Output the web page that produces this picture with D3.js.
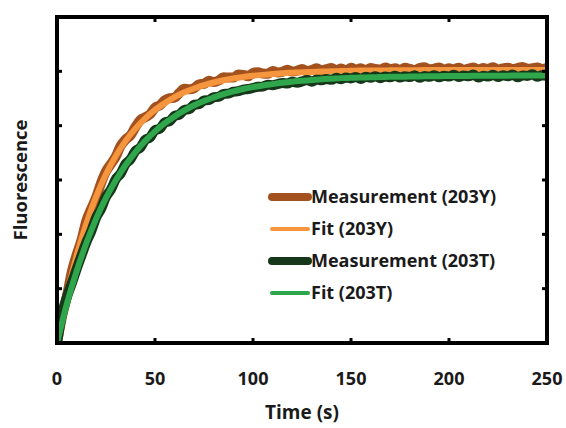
<!DOCTYPE html>
<html lang="en">
<head>
<meta charset="UTF-8">
<title>Fluorescence vs Time</title>
<script src="https://d3js.org/d3.v7.min.js"></script>
<style>
    body { margin: 0; background: #fff; }
    svg text { font-family: "Open Sans", "DejaVu Sans", sans-serif; font-weight: bold; fill: #1a1a1a; }
</style>
</head>
<body>
<div id="chart"></div>
<script>
    // measurement samples every 2.5 s, fits every 5 s
    const measTimes = d3.range(0, 250.01, 2.5);
    const fitTimes = d3.range(0, 250.01, 5);

    const meas203Y = [0.000, 0.096, 0.170, 0.260, 0.324, 0.379, 0.450, 0.494, 0.536, 0.589,
        0.632, 0.659, 0.686, 0.726, 0.749, 0.764, 0.795, 0.821, 0.831, 0.842,
        0.866, 0.875, 0.893, 0.901, 0.903, 0.921, 0.936, 0.934, 0.938, 0.952,
        0.954, 0.965, 0.961, 0.966, 0.978, 0.977, 0.977, 0.988, 0.987, 0.982,
        0.994, 0.997, 0.992, 0.991, 1.001, 0.996, 0.998, 1.006, 0.999, 1.002,
        1.009, 1.001, 1.005, 1.011, 1.003, 1.008, 1.012, 1.004, 1.010, 1.002,
        1.013, 1.007, 1.011, 1.004, 1.012, 1.009, 1.006, 1.014, 1.008, 1.011,
        1.005, 1.013, 1.009, 1.004, 1.012, 1.015, 1.007, 1.010, 1.014, 1.006,
        1.011, 1.008, 1.013, 1.005, 1.010, 1.014, 1.007, 1.012, 1.009, 1.015,
        1.006, 1.011, 1.013, 1.008, 1.012, 1.016, 1.009, 1.011, 1.014, 1.008,
        1.012];

    const fit203Y = [0.000, 0.176, 0.321, 0.440, 0.540, 0.621, 0.688, 0.744, 0.789, 0.827,
        0.858, 0.883, 0.905, 0.923, 0.937, 0.949, 0.959, 0.967, 0.974, 0.979,
        0.984, 0.987, 0.990, 0.993, 0.995, 0.997, 0.998, 0.999, 1.000, 1.001,
        1.002, 1.003, 1.003, 1.003, 1.004, 1.004, 1.004, 1.004, 1.005, 1.005,
        1.005, 1.005, 1.005, 1.005, 1.005, 1.005, 1.005, 1.005, 1.005, 1.005,
        1.005];

    const meas203T = [0.000, 0.105, 0.168, 0.219, 0.272, 0.322, 0.371, 0.412, 0.462, 0.494,
        0.538, 0.565, 0.603, 0.624, 0.659, 0.676, 0.707, 0.719, 0.748, 0.757,
        0.783, 0.789, 0.812, 0.817, 0.836, 0.841, 0.858, 0.861, 0.877, 0.879,
        0.893, 0.894, 0.905, 0.906, 0.917, 0.918, 0.925, 0.927, 0.933, 0.935,
        0.939, 0.943, 0.944, 0.951, 0.949, 0.953, 0.957, 0.955, 0.962, 0.958,
        0.963, 0.968, 0.962, 0.970, 0.967, 0.972, 0.969, 0.976, 0.971, 0.977,
        0.974, 0.979, 0.972, 0.980, 0.976, 0.982, 0.975, 0.981, 0.978, 0.984,
        0.977, 0.982, 0.979, 0.986, 0.976, 0.983, 0.980, 0.986, 0.978, 0.984,
        0.981, 0.987, 0.979, 0.985, 0.982, 0.988, 0.977, 0.984, 0.981, 0.987,
        0.979, 0.986, 0.982, 0.988, 0.978, 0.985, 0.983, 0.989, 0.980, 0.986,
        0.983];

    const fit203T = [0.000, 0.143, 0.264, 0.368, 0.458, 0.534, 0.599, 0.655, 0.703, 0.744,
        0.779, 0.809, 0.834, 0.856, 0.875, 0.891, 0.904, 0.916, 0.926, 0.935,
        0.942, 0.948, 0.953, 0.958, 0.962, 0.965, 0.968, 0.971, 0.973, 0.975,
        0.976, 0.977, 0.978, 0.979, 0.980, 0.980, 0.981, 0.981, 0.982, 0.982,
        0.983, 0.983, 0.983, 0.984, 0.984, 0.984, 0.984, 0.985, 0.985, 0.985,
        0.985];

    const xTicks = [0, 50, 100, 150, 200, 250];
    const yTicks = [0.2, 0.4, 0.6, 0.8, 1.0];

    const series = [
        { name: "Measurement (203Y)", t: measTimes, v: meas203Y, color: "#a3521f", width: 10 },
        { name: "Fit (203Y)", t: fitTimes, v: fit203Y, color: "#f5953d", width: 6 },
        { name: "Measurement (203T)", t: measTimes, v: meas203T, color: "#16371a", width: 10 },
        { name: "Fit (203T)", t: fitTimes, v: fit203T, color: "#2fa64c", width: 6 }
    ];

    const width = 566, height = 428;
    const margin = { top: 17, right: 19, bottom: 85, left: 57 };
    const innerW = width - margin.left - margin.right;
    const innerH = height - margin.top - margin.bottom;

    const svg = d3.select("#chart").append("svg")
        .attr("width", width)
        .attr("height", height);

    const g = svg.append("g")
        .attr("transform", `translate(${margin.left},${margin.top})`);

    const x = d3.scaleLinear().domain([0, 250]).range([0, innerW]);
    const y = d3.scaleLinear().domain([0, 1.2]).range([innerH, 0]);

    g.append("clipPath").attr("id", "clip")
        .append("rect").attr("width", innerW).attr("height", innerH);

    const line = d3.line()
        .x(d => x(d[0]))
        .y(d => y(d[1]))
        .curve(d3.curveMonotoneX);

    const plot = g.append("g").attr("clip-path", "url(#clip)");
    series.forEach(s => {
        plot.append("path")
            .datum(s.t.map((t, i) => [t, s.v[i]]))
            .attr("fill", "none")
            .attr("stroke", s.color)
            .attr("stroke-width", s.width)
            .attr("stroke-linejoin", "round")
            .attr("stroke-linecap", "round")
            .attr("d", line);
    });

    // inward ticks on all four sides
    const tickLen = 5;
    xTicks.slice(1, -1).forEach(t => {
        g.append("line").attr("x1", x(t)).attr("x2", x(t)).attr("y1", innerH).attr("y2", innerH - tickLen)
            .attr("stroke", "#000").attr("stroke-width", 3);
        g.append("line").attr("x1", x(t)).attr("x2", x(t)).attr("y1", 0).attr("y2", tickLen)
            .attr("stroke", "#000").attr("stroke-width", 3);
    });
    yTicks.forEach(v => {
        g.append("line").attr("x1", 0).attr("x2", tickLen).attr("y1", y(v)).attr("y2", y(v))
            .attr("stroke", "#000").attr("stroke-width", 3);
        g.append("line").attr("x1", innerW).attr("x2", innerW - tickLen).attr("y1", y(v)).attr("y2", y(v))
            .attr("stroke", "#000").attr("stroke-width", 3);
    });

    g.append("rect")
        .attr("width", innerW)
        .attr("height", innerH)
        .attr("fill", "none")
        .attr("stroke", "#000")
        .attr("stroke-width", 4);

    // tick labels
    g.selectAll(".xlab")
        .data(xTicks)
        .enter()
        .append("text")
        .attr("class", "xlab")
        .attr("x", d => x(d))
        .attr("y", innerH + 42)
        .attr("text-anchor", "middle")
        .style("font-size", "18px")
        .text(d => d);

    svg.append("text")
        .attr("x", 302)
        .attr("y", 419)
        .attr("text-anchor", "middle")
        .style("font-size", "19px")
        .text("Time (s)");

    svg.append("text")
        .attr("transform", "translate(27,180) rotate(-90)")
        .attr("text-anchor", "middle")
        .style("font-size", "18.5px")
        .text("Fluorescence");

    // legend
    const legend = svg.append("g").attr("transform", "translate(270,197)");
    const rows = legend.selectAll("g")
        .data(series)
        .enter()
        .append("g")
        .attr("transform", (d, i) => `translate(0,${i * 32})`);

    rows.append("line")
        .attr("x1", 2).attr("x2", 38)
        .attr("stroke", d => d.color)
        .attr("stroke-width", d => d.width === 10 ? 8 : 4)
        .attr("stroke-linecap", "round");

    rows.append("text")
        .attr("x", 41)
        .attr("y", 6)
        .style("font-size", "18px")
        .text(d => d.name);
</script>
</body>
</html>
